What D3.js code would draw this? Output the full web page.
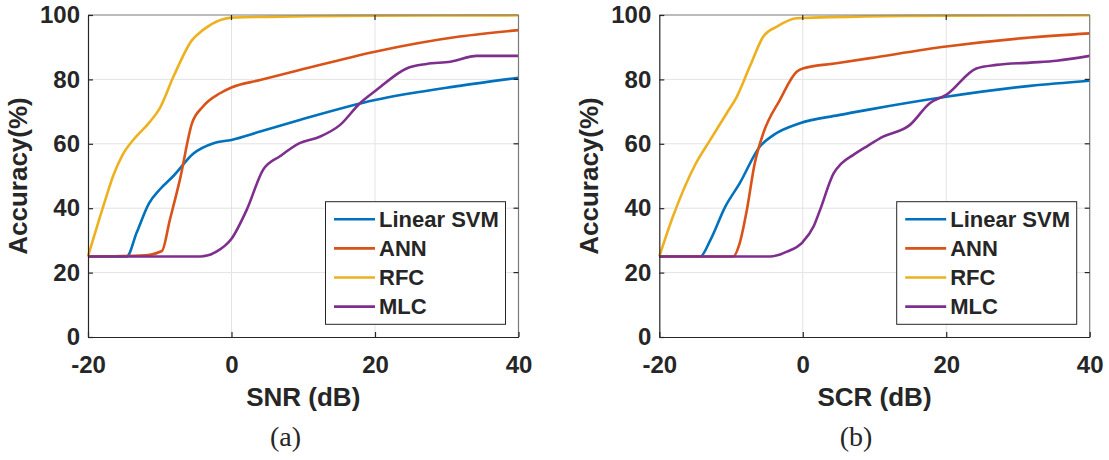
<!DOCTYPE html>
<html>
<head>
<meta charset="utf-8">
<script src="https://cdn.jsdelivr.net/npm/d3@7"></script>
<style>
  body { margin: 0; background: #fff; }
  svg text { font-family: "Liberation Sans", Arial, sans-serif; font-weight: bold; fill: #262626; }
</style>
</head>
<body>
<div id="chart"></div>
<script>
// series names + MATLAB default colours
var seriesNames = ["Linear SVM", "ANN", "RFC", "MLC"];
var seriesColors = ["#0072BD", "#D95319", "#EDB120", "#7E2F8E"];

var xTicks = [-20, 0, 20, 40];
var yTicks = [0, 20, 40, 60, 80, 100];

// (a) accuracy vs SNR, [dB, %]
var snrSvm = [[-20,25],[-14.6,25],[-13.2,32.5],[-11.5,41.5],[-10,45.8],[-8.1,50],[-5.3,57],[-2.5,60.2],[0,61.2],[4,63.8],[9.5,67.4],[20,73.6],[31.8,78],[40,80.5]];
var snrAnn = [[-20,25],[-12,25.4],[-9.7,26.7],[-8.6,36.3],[-7.2,48.8],[-5.5,66.4],[-4,71.5],[-1.6,75.7],[0,77.5],[4,79.8],[9.5,82.9],[20,88.6],[31.8,93.3],[40,95.3]];
var snrRfc = [[-20,25],[-17.6,42.5],[-16.5,50],[-15.2,56.5],[-13.7,61.2],[-11.5,66.5],[-10,71],[-8.1,80.8],[-5.5,92.2],[-4,95.3],[-1.6,98.4],[0,99.2],[20,99.8],[40,99.9]];
var snrMlc = [[-20,25],[-4.4,25],[-2.1,26.5],[0,30.5],[2.1,39.4],[4.4,51.9],[6.8,56.2],[9.5,60.2],[12.3,62.2],[15.1,65.8],[17.9,72.6],[20.2,76.7],[24.4,83.4],[27.2,84.8],[30.5,85.5],[34.2,87.3],[40,87.3]];

// (b) accuracy vs SCR
var scrSvm = [[-20,25],[-14.3,25],[-12.9,30],[-10.8,40.5],[-8.8,47.7],[-6,59.1],[-4.1,62.7],[-0.4,66.4],[5,68.9],[9.4,70.7],[20,74.6],[31.7,78],[40,79.6]];
var scrAnn = [[-20,25],[-9.7,25],[-8.8,29.1],[-7.8,39.4],[-6.7,53.9],[-5.5,63.3],[-3.2,73.6],[-0.85,82.4],[0,83.4],[4.7,85],[9.4,86.6],[20,90.2],[31.7,93],[40,94.3]];
var scrRfc = [[-20,25],[-18.1,37.4],[-15,53.5],[-12.9,61.2],[-10.6,69.5],[-9.2,74.6],[-7.4,83.9],[-5.5,93.3],[-3.6,96.4],[-0.85,99],[20,99.8],[40,99.9]];
var scrMlc = [[-20,25],[-4.6,25],[-2.2,26.5],[0,29.5],[1.5,34.3],[2.4,39.4],[4.3,50.8],[5.4,53.9],[7,56.5],[9,59.3],[11.2,62.2],[14.9,65.8],[17.7,72.6],[20,75.2],[24.2,83.4],[27,84.5],[31.7,85.2],[35.4,85.8],[40,87.3]];

var W = 1109, H = 460;
var svg = d3.select("#chart").append("svg")
    .attr("width", W).attr("height", H);

var panels = [
    { left: 88, right: 518.5, xlabel: "SNR (dB)", tag: "(a)", tagX: 285.5, series: [snrSvm, snrAnn, snrRfc, snrMlc] },
    { left: 659.3, right: 1089.7, xlabel: "SCR (dB)", tag: "(b)", tagX: 856, series: [scrSvm, scrAnn, scrRfc, scrMlc] }
];
var plotTop = 15, plotBottom = 337;

panels.forEach(function (p) {
    var x = d3.scaleLinear().domain([-20, 40]).range([p.left, p.right]);
    var y = d3.scaleLinear().domain([0, 100]).range([plotBottom, plotTop]);
    var g = svg.append("g");

    // grid
    g.selectAll(".gx").data(xTicks.slice(1, -1)).join("line")
        .attr("x1", function (d) { return x(d); }).attr("x2", function (d) { return x(d); })
        .attr("y1", plotTop).attr("y2", plotBottom)
        .attr("stroke", "#e3e3e3").attr("stroke-width", 1);
    g.selectAll(".gy").data(yTicks.slice(1, -1)).join("line")
        .attr("y1", function (d) { return y(d); }).attr("y2", function (d) { return y(d); })
        .attr("x1", p.left).attr("x2", p.right)
        .attr("stroke", "#e3e3e3").attr("stroke-width", 1);

    // lines
    var line = d3.line()
        .x(function (d) { return x(d[0]); })
        .y(function (d) { return y(d[1]); })
        .curve(d3.curveMonotoneX);
    p.series.forEach(function (s, i) {
        g.append("path").datum(s)
            .attr("d", line)
            .attr("fill", "none")
            .attr("stroke", seriesColors[i])
            .attr("stroke-width", 2.6)
            .attr("stroke-linejoin", "round");
    });

    // box: top/right lighter, left/bottom darker
    g.append("line").attr("x1", p.left).attr("x2", p.right).attr("y1", plotTop).attr("y2", plotTop)
        .attr("stroke", "#7a7a7a").attr("stroke-width", 1.2);
    g.append("line").attr("x1", p.right).attr("x2", p.right).attr("y1", plotTop).attr("y2", plotBottom)
        .attr("stroke", "#7a7a7a").attr("stroke-width", 1.2);

    var xAxis = d3.axisBottom(x).tickValues(xTicks).tickSizeInner(-5).tickSizeOuter(0).tickPadding(19)
        .tickFormat(function (d) { return String(d); });
    var yAxis = d3.axisLeft(y).tickValues(yTicks).tickSizeInner(-5).tickSizeOuter(0).tickPadding(8)
        .tickFormat(function (d) { return String(d); });

    var gx = g.append("g").attr("transform", "translate(0," + plotBottom + ")").call(xAxis);
    var gy = g.append("g").attr("transform", "translate(" + p.left + ",0)").call(yAxis);
    [gx, gy].forEach(function (a) {
        a.select(".domain").attr("stroke", "#262626").attr("stroke-width", 1.2);
        a.selectAll(".tick line").attr("stroke", "#262626").attr("stroke-width", 1.2);
        a.selectAll(".tick text").style("font-size", "24px").style("font-weight", "bold")
            .style("font-family", "'Liberation Sans', Arial, sans-serif").attr("fill", "#262626");
    });
    // right side ticks (box on)
    g.selectAll(".rt").data(yTicks.slice(1, -1)).join("line")
        .attr("x1", p.right).attr("x2", p.right - 5)
        .attr("y1", function (d) { return y(d); }).attr("y2", function (d) { return y(d); })
        .attr("stroke", "#262626").attr("stroke-width", 1.2);
    g.selectAll(".tt").data(xTicks.slice(1, -1)).join("line")
        .attr("y1", plotTop).attr("y2", plotTop + 5)
        .attr("x1", function (d) { return x(d); }).attr("x2", function (d) { return x(d); })
        .attr("stroke", "#262626").attr("stroke-width", 1.2);

    // axis labels
    g.append("text")
        .attr("x", (p.left + p.right) / 2).attr("y", 406)
        .attr("text-anchor", "middle").style("font-size", "26px")
        .text(p.xlabel);
    g.append("text")
        .attr("transform", "translate(" + (p.left - 61) + "," + ((plotTop + plotBottom) / 2) + ") rotate(-90)")
        .attr("text-anchor", "middle").style("font-size", "26px")
        .text("Accuracy(%)");
    g.append("text")
        .attr("x", p.tagX).attr("y", 446)
        .attr("text-anchor", "middle")
        .style("font-family", "'Liberation Serif', 'DejaVu Serif', serif")
        .style("font-weight", "normal").style("font-size", "28px").attr("fill", "#000")
        .text(p.tag);

    // legend
    var lx = p.right - 193, ly = 201.7, lw = 180, lh = 122.6;
    var leg = g.append("g");
    leg.append("rect").attr("x", lx).attr("y", ly).attr("width", lw).attr("height", lh)
        .attr("fill", "#fff").attr("stroke", "#262626").attr("stroke-width", 1);
    seriesNames.forEach(function (name, i) {
        var yy = ly + 17.6 + i * 29.1;
        leg.append("line").attr("x1", lx + 8.5).attr("x2", lx + 49.5).attr("y1", yy).attr("y2", yy)
            .attr("stroke", seriesColors[i]).attr("stroke-width", 2.6);
        leg.append("text").attr("x", lx + 53.5).attr("y", yy).attr("dy", "0.35em")
            .style("font-size", "22px").attr("fill", "#000").text(name);
    });
});
</script>
</body>
</html>
